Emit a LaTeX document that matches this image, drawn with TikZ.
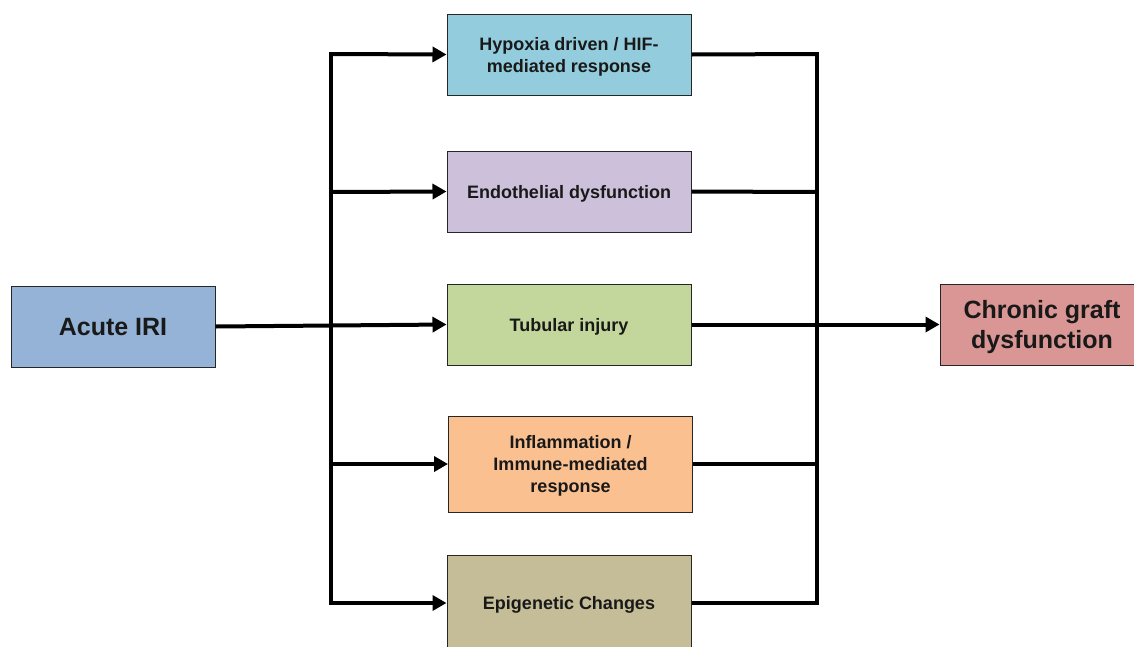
\documentclass[tikz,border=0pt]{standalone}
\usepackage{fontspec}
\setmainfont{Liberation Sans}
\usetikzlibrary{arrows.meta}
\definecolor{cacute}{HTML}{95B3D7}
\definecolor{chyp}{HTML}{93CDDD}
\definecolor{cendo}{HTML}{CCC0DA}
\definecolor{ctub}{HTML}{C3D69B}
\definecolor{cinfl}{HTML}{FAC090}
\definecolor{cepi}{HTML}{C4BD97}
\definecolor{cchr}{HTML}{D99694}
\definecolor{cline}{HTML}{262626}
\tikzset{
  box/.style={draw=cline, line width=1pt, align=center, font=\bfseries\fontsize{18}{22}\selectfont, text=black!90, inner sep=2pt, text depth=0pt},
  bigbox/.style={box, font=\bfseries\fontsize{25}{30}\selectfont},
  conn/.style={line width=4pt, black},
  arr/.style={conn, -{Triangle[length=14pt,width=15pt]}},
}
\begin{document}
\begin{tikzpicture}[x=1pt,y=-1pt]
\useasboundingbox (0,0) rectangle (1134,646);
\clip (0,0) rectangle (1134,646);
\node[bigbox, fill=cacute, minimum width=204pt, minimum height=81pt] (acute) at (113,326.5) {Acute IRI};
\node[box, fill=chyp, minimum width=244pt, minimum height=81pt] (hyp) at (569,54.5) {Hypoxia driven / HIF-\\mediated response};
\node[box, fill=cendo, minimum width=244pt, minimum height=81pt] (endo) at (569,191.5) {Endothelial dysfunction};
\node[box, fill=ctub, minimum width=244pt, minimum height=81pt] (tub) at (569,324.5) {Tubular injury};
\node[box, fill=cinfl, minimum width=244pt, minimum height=96pt] (infl) at (570.5,464) {Inflammation /\\Immune-mediated\\response};
\node[box, fill=cepi, minimum width=244pt, minimum height=96pt] (epi) at (569,603) {Epigenetic Changes};
\node[bigbox, fill=cchr, minimum width=204pt, minimum height=81pt] (chr) at (1042,324.5) {Chronic graft\\dysfunction};
% left trunk
\coordinate (Lt) at (331,54);
\coordinate (Le) at (331,192);
\coordinate (Li) at (331,464);
\coordinate (Lb) at (331,603);
\draw[conn, line cap=rect] (Lt) -- (Lb);
\draw[arr] (Lt) -- (hyp.west);
\draw[arr] (Le) -- (endo.west);
\draw[arr] (acute.east) -- (tub.west);
\draw[arr] (Li) -- (infl.west);
\draw[arr] (Lb) -- (epi.west);
% right trunk
\coordinate (Rt) at (817,54);
\coordinate (Re) at (817,192);
\coordinate (Ri) at (817,464);
\coordinate (Rb) at (817,603);
\draw[conn, line cap=rect] (Rt) -- (Rb);
\draw[conn] (hyp.east) -- (Rt);
\draw[conn] (endo.east) -- (Re);
\draw[conn] (infl.east) -- (Ri);
\draw[conn] (epi.east) -- (Rb);
\draw[arr] (tub.east) -- (chr.west);
\end{tikzpicture}
\end{document}
